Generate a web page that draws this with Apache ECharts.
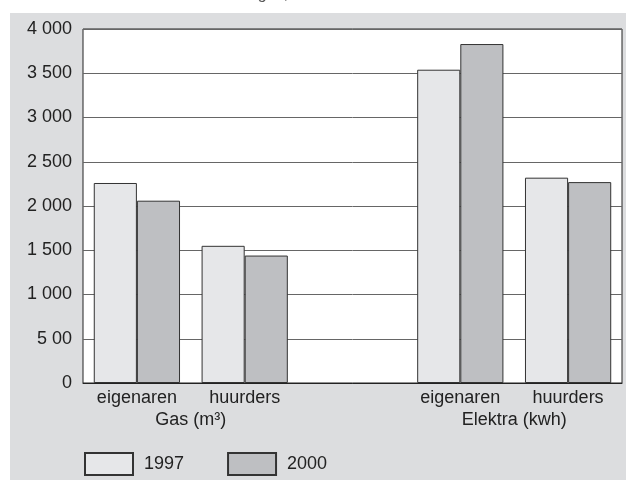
<!DOCTYPE html>
<html>
<head>
<meta charset="utf-8">
<script src="https://cdn.jsdelivr.net/npm/echarts@6/dist/echarts.min.js"></script>
<style>
  html, body { margin: 0; padding: 0; background: #fff; }
  #chart { width: 626px; height: 480px; }
</style>
</head>
<body>
<div id="chart"></div>
<script>
// data
const categories = ['eigenaren', 'huurders', '', 'eigenaren', 'huurders']
const v1997 = [2260, 1550, '-', 3540, 2320]
const v2000 = [2060, 1440, '-', 3830, 2270]
const yTickLabels = ['0', '5 00', '1 000', '1 500', '2 000', '2 500', '3 000', '3 500', '4 000']
const groupNames = ['Gas (m³)', 'Elektra (kwh)']
const groupPos = [0.5, 3.5]
const titleText = 'Het verbruik aan gas, 1997 en 2000'

const font = "'Liberation Sans', Arial, sans-serif"
const txt = '#222'
const fs = 18

const chart = echarts.init(document.getElementById('chart'))
const option = {
  animation: false,
  textStyle: { fontFamily: font },
  graphic: [
    {
      type: 'rect',
      z: -10,
      silent: true,
      shape: { x: 10, y: 13, width: 616, height: 467 },
      style: { fill: '#dcdddf' }
    },
    {
      // only the bottom of the title line is visible in the crop
      type: 'text',
      silent: true,
      x: 137,
      y: 3,
      style: {
        text: titleText,
        fontFamily: font,
        fontStyle: 'italic',
        fontSize: 16,
        fill: '#555',
        verticalAlign: 'bottom'
      }
    }
  ],
  grid: {
    left: 83,
    right: 4,
    top: 29,
    bottom: 97,
    show: true,
    backgroundColor: '#fff',
    borderColor: '#222',
    borderWidth: 1
  },
  legend: {
    left: 79,
    top: 447,
    itemWidth: 48,
    itemHeight: 22,
    itemGap: 43,
    icon: 'rect',
    textStyle: { fontSize: fs, color: txt, fontFamily: font, padding: [0, 0, 0, 6] },
    data: ['1997', '2000']
  },
  xAxis: [
    {
      type: 'category',
      data: categories,
      axisLine: { lineStyle: { color: '#222', width: 1 } },
      axisTick: { show: false },
      axisLabel: { fontSize: fs, color: txt, margin: 6, interval: 0 }
    },
    {
      type: 'value',
      position: 'bottom',
      min: -0.5,
      max: 4.5,
      axisLine: { show: false },
      axisTick: { show: false },
      splitLine: { show: false },
      axisLabel: {
        customValues: groupPos,
        fontSize: fs,
        color: txt,
        margin: 28,
        formatter: (v) => groupNames[groupPos.indexOf(v)] || ''
      }
    }
  ],
  yAxis: {
    type: 'value',
    min: 0,
    max: 4000,
    interval: 500,
    axisLine: { show: false },
    axisTick: { show: false },
    axisLabel: {
      fontSize: fs,
      color: txt,
      margin: 11,
      formatter: (v) => yTickLabels[Math.round(v / 500)]
    },
    splitLine: { lineStyle: { color: '#666', width: 1 } }
  },
  series: [
    {
      name: '1997',
      type: 'bar',
      data: v1997,
      barWidth: '40%',
      barGap: '0%',
      itemStyle: { color: '#e6e7e9', borderColor: '#333', borderWidth: 1 }
    },
    {
      name: '2000',
      type: 'bar',
      data: v2000,
      barWidth: '40%',
      barGap: '0%',
      itemStyle: { color: '#bebfc2', borderColor: '#333', borderWidth: 1 }
    }
  ]
}
chart.setOption(option)
</script>
</body>
</html>
